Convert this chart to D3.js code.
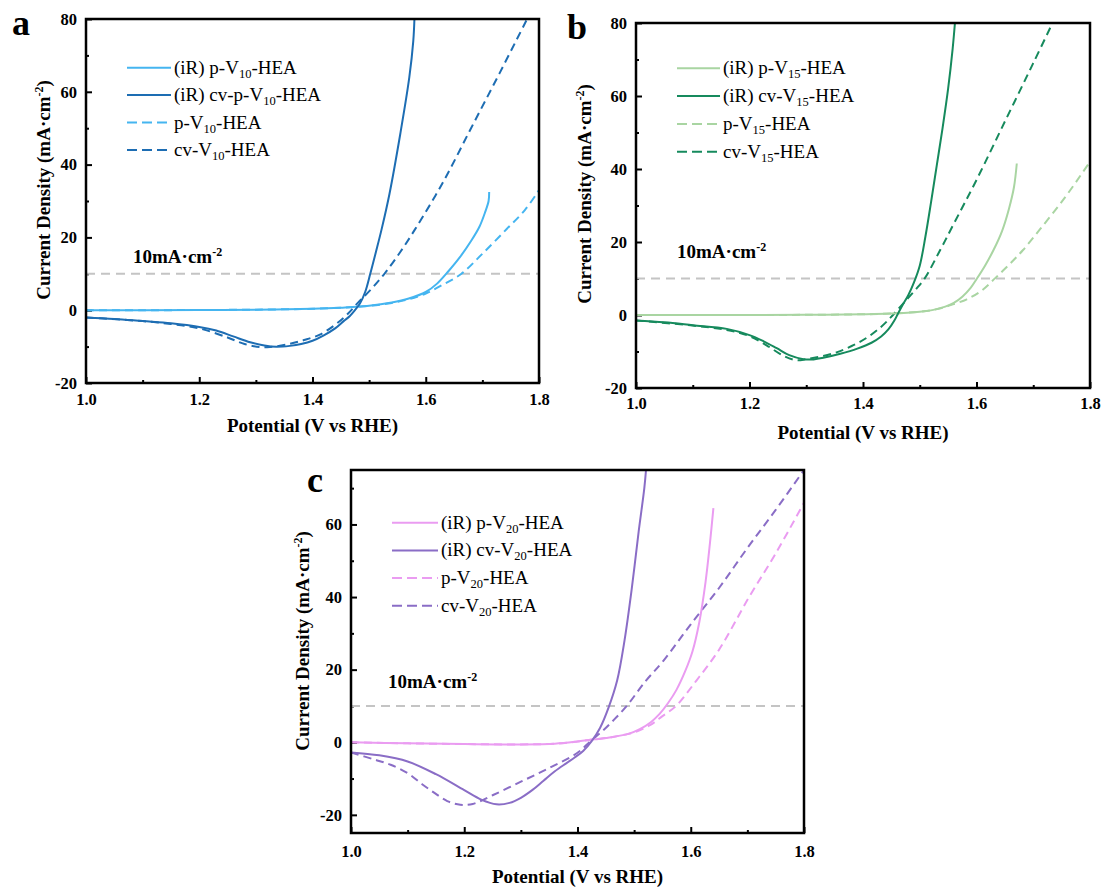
<!DOCTYPE html>
<html>
<head>
<meta charset="utf-8">
<script src="https://cdn.jsdelivr.net/npm/d3@7"></script>
<style>
  body { margin: 0; background: #fff; }
  svg { display: block; font-family: "Liberation Serif", "Times New Roman", serif; }
</style>
</head>
<body>
<div id="root"></div>
<script>
// ticks
var xTicks = [1.0, 1.2, 1.4, 1.6, 1.8];
var xMinor = [1.1, 1.3, 1.5, 1.7];
var yTicksAB = [-20, 0, 20, 40, 60, 80];
var yMinorAB = [-10, 10, 30, 50, 70];
var yTicksC = [-20, 0, 20, 40, 60];
var yMinorC = [-10, 10, 30, 50, 70];
var refLevel = 10;

// panel a: [potential V, current mA/cm2]
var aIrP = [[1.0,0],[1.1,0],[1.2,0.05],[1.3,0.15],[1.4,0.4],[1.45,0.7],[1.5,1.2],[1.54,2.1],[1.57,3.2],[1.6,5],[1.62,7.3],[1.64,10.7],[1.66,14.5],[1.68,19],[1.695,23],[1.705,27],[1.711,30],[1.712,32.5]];
var aIrCv = [[1.0,-2.0],[1.05,-2.4],[1.1,-3.0],[1.15,-3.6],[1.2,-4.6],[1.23,-5.6],[1.26,-7.2],[1.29,-8.8],[1.315,-9.7],[1.336,-10.05],[1.36,-9.8],[1.38,-9.3],[1.4,-8.4],[1.42,-6.9],[1.44,-5.0],[1.455,-3.0],[1.466,-1.6],[1.475,0],[1.484,1.9],[1.493,5],[1.502,10],[1.512,16],[1.522,22.2],[1.536,32],[1.555,48.4],[1.571,64],[1.578,74],[1.58,80]];
var aP = [[1.0,0],[1.1,0],[1.2,0.05],[1.3,0.15],[1.4,0.4],[1.45,0.7],[1.5,1.2],[1.54,2.0],[1.57,3.0],[1.6,4.6],[1.63,7],[1.663,10],[1.7,15.5],[1.743,22.3],[1.775,27.5],[1.8,33]];
var aCv = [[1.0,-2.0],[1.1,-3.0],[1.15,-3.8],[1.2,-5.0],[1.25,-7.5],[1.28,-9.3],[1.307,-10.1],[1.325,-10.1],[1.355,-9.4],[1.385,-8.2],[1.413,-6.7],[1.44,-4.0],[1.461,-1.2],[1.48,2],[1.505,6],[1.528,10.2],[1.555,16],[1.581,22.2],[1.63,35],[1.68,50],[1.73,65],[1.779,80]];

// panel b
var bIrP = [[1.0,0],[1.1,0],[1.2,0],[1.3,0.05],[1.4,0.2],[1.45,0.4],[1.5,0.9],[1.524,1.4],[1.545,2.3],[1.56,3.3],[1.575,5],[1.59,7.5],[1.6,9.8],[1.615,13.5],[1.63,17.8],[1.645,23],[1.657,29],[1.666,35],[1.671,41.5]];
var bIrCv = [[1.0,-1.5],[1.05,-2.0],[1.1,-2.8],[1.16,-3.8],[1.2,-5.5],[1.225,-7.2],[1.248,-9.1],[1.27,-11],[1.295,-12.1],[1.31,-12.2],[1.33,-11.7],[1.36,-10.6],[1.39,-9.2],[1.415,-7.6],[1.432,-5.9],[1.445,-3.9],[1.455,-1.6],[1.462,0.5],[1.47,2.8],[1.48,5.5],[1.49,9],[1.5,13.5],[1.51,21.5],[1.52,31],[1.53,41],[1.54,51],[1.55,62],[1.558,73],[1.562,80]];
var bP = [[1.0,0],[1.1,0],[1.2,0],[1.3,0.05],[1.4,0.2],[1.45,0.4],[1.5,0.9],[1.524,1.4],[1.545,2.2],[1.56,3.0],[1.583,4.3],[1.61,6.8],[1.633,10.1],[1.66,14.2],[1.682,17.8],[1.712,23.5],[1.755,32],[1.8,42]];
var bCv = [[1.0,-1.5],[1.1,-2.9],[1.16,-4.1],[1.2,-5.8],[1.23,-8.3],[1.26,-11.2],[1.283,-12.4],[1.3,-12.1],[1.348,-10.5],[1.38,-8.5],[1.406,-6.3],[1.43,-3.5],[1.448,-0.8],[1.462,1.6],[1.477,4.2],[1.493,7],[1.509,10.1],[1.536,17.8],[1.56,25],[1.6,37],[1.65,53],[1.7,69],[1.734,80]];

// panel c
var cIrP = [[1.0,0],[1.1,-0.3],[1.2,-0.5],[1.3,-0.6],[1.36,-0.4],[1.4,0.2],[1.43,0.8],[1.46,1.4],[1.49,2.3],[1.51,3.6],[1.53,5.6],[1.545,7.8],[1.56,10.8],[1.575,14.5],[1.59,19.5],[1.603,25],[1.615,33],[1.626,44],[1.634,55],[1.64,64.5]];
var cIrCv = [[1.0,-2.8],[1.05,-3.6],[1.1,-5.3],[1.15,-8.8],[1.2,-13.2],[1.23,-15.8],[1.257,-17.1],[1.28,-16.7],[1.3,-15.3],[1.32,-13.2],[1.34,-10.6],[1.36,-8.0],[1.38,-5.8],[1.395,-4.2],[1.41,-2.4],[1.425,0.3],[1.44,4],[1.455,9.6],[1.47,17],[1.483,28],[1.496,42.5],[1.508,58],[1.518,70],[1.521,75]];
var cP = [[1.0,0],[1.1,-0.3],[1.2,-0.5],[1.3,-0.6],[1.36,-0.4],[1.4,0.2],[1.43,0.8],[1.46,1.4],[1.48,2.0],[1.5,2.7],[1.528,4.7],[1.55,7.2],[1.574,10],[1.61,17],[1.65,25.5],[1.703,40],[1.75,52],[1.8,66]];
var cCv = [[1.0,-2.8],[1.04,-4.7],[1.07,-6.2],[1.1,-8.5],[1.125,-11.5],[1.146,-13.8],[1.17,-16.2],[1.193,-17.2],[1.215,-17.0],[1.25,-14.6],[1.301,-10.8],[1.351,-7.0],[1.4,-2.9],[1.423,0.3],[1.445,3.2],[1.465,6.3],[1.487,10],[1.52,16.8],[1.552,22.5],[1.6,32.5],[1.65,42.5],[1.7,53.5],[1.75,64],[1.8,75]];

// legend labels: [before, subscript, after]
var legendA = [['(iR) p-V', '10', '-HEA'], ['(iR) cv-p-V', '10', '-HEA'], ['p-V', '10', '-HEA'], ['cv-V', '10', '-HEA']];
var legendB = [['(iR) p-V', '15', '-HEA'], ['(iR) cv-V', '15', '-HEA'], ['p-V', '15', '-HEA'], ['cv-V', '15', '-HEA']];
var legendC = [['(iR) p-V', '20', '-HEA'], ['(iR) cv-V', '20', '-HEA'], ['p-V', '20', '-HEA'], ['cv-V', '20', '-HEA']];

var colorsA = ['#45b5f0', '#1d6db3'];
var colorsB = ['#a9d5a2', '#168a5d'];
var colorsC = ['#ea9cf1', '#8a6dc6'];

var panels = [
  { id: 'a', left: 86, top: 19, width: 453, height: 364, yDomain: [-20, 80], yTicks: yTicksAB, yMinor: yMinorAB,
    letter: [12, 35], xTitleY: 432, yTitleX: 50, yTitleCY: 190, xLabGap: 22,
    leg: { x1: 127, x2: 171, tx: 174, y0: 67.7, dy: 27.4 }, ref: [133, 263],
    series: [aIrP, aIrCv, aP, aCv], labels: legendA, colors: colorsA },
  { id: 'b', left: 636, top: 23, width: 454, height: 365, yDomain: [-20, 80], yTicks: yTicksAB, yMinor: yMinorAB,
    letter: [567, 39], xTitleY: 439, yTitleX: 591, yTitleCY: 194, xLabGap: 21,
    leg: { x1: 677, x2: 720, tx: 723, y0: 68.3, dy: 27.8 }, ref: [677, 258],
    series: [bIrP, bIrCv, bP, bCv], labels: legendB, colors: colorsB },
  { id: 'c', left: 351, top: 470, width: 453, height: 363, yDomain: [-25, 75], yTicks: yTicksC, yMinor: yMinorC,
    letter: [307, 492], xTitleY: 883, yTitleX: 309, yTitleCY: 641, xLabGap: 24,
    leg: { x1: 392, x2: 438, tx: 441, y0: 522.7, dy: 27.7 }, ref: [388, 688],
    series: [cIrP, cIrCv, cP, cCv], labels: legendC, colors: colorsC }
];

var dash = '8,5';
var svg = d3.select('#root').append('svg')
  .attr('width', 1106)
  .attr('height', 888);

var drawPanel = function(p) {
  var x = d3.scaleLinear().domain([1.0, 1.8]).range([0, p.width]);
  var y = d3.scaleLinear().domain(p.yDomain).range([p.height, 0]);
  var g = svg.append('g')
    .attr('id', 'panel_' + p.id)
    .attr('transform', 'translate(' + p.left + ',' + p.top + ')');

  g.append('clipPath').attr('id', 'clip_' + p.id)
    .append('rect').attr('width', p.width).attr('height', p.height);

  // x axis, ticks pointing inward
  g.append('g').attr('transform', 'translate(0,' + p.height + ')')
    .call(d3.axisBottom(x).tickValues(xTicks).tickSize(-6).tickPadding(p.xLabGap - 12)
      .tickFormat(d3.format('.1f')));
  g.append('g').attr('transform', 'translate(0,' + p.height + ')')
    .call(d3.axisBottom(x).tickValues(xMinor).tickSize(-3).tickFormat(''));
  g.append('g')
    .call(d3.axisLeft(y).tickValues(p.yTicks).tickSize(-6).tickPadding(9)
      .tickFormat(function(d) { return String(d); }));
  g.append('g')
    .call(d3.axisLeft(y).tickValues(p.yMinor).tickSize(-3).tickFormat(''));
  g.selectAll('.domain').remove();
  g.selectAll('.tick line').attr('stroke', '#000').attr('stroke-width', 2);
  g.selectAll('.tick text')
    .attr('fill', '#000')
    .style('font-family', '"Liberation Serif", serif')
    .style('font-size', '16.5px')
    .style('font-weight', 'bold');

  // reference line at 10 mA/cm2
  g.append('line')
    .attr('x1', 0).attr('x2', p.width)
    .attr('y1', y(refLevel)).attr('y2', y(refLevel))
    .attr('stroke', '#c4c4c4')
    .attr('stroke-width', 2)
    .attr('stroke-dasharray', '9,6');

  // curves
  var line = d3.line()
    .x(function(d) { return x(d[0]); })
    .y(function(d) { return y(d[1]); })
    .curve(d3.curveCatmullRom.alpha(0.5));
  var order = [2, 3, 0, 1];
  order.forEach(function(i) {
    g.append('path')
      .datum(p.series[i])
      .attr('clip-path', 'url(#clip_' + p.id + ')')
      .attr('d', line)
      .attr('fill', 'none')
      .attr('stroke', p.colors[i % 2])
      .attr('stroke-width', 2)
      .attr('stroke-dasharray', i > 1 ? dash : null);
  });

  // frame
  g.append('rect')
    .attr('width', p.width).attr('height', p.height)
    .attr('fill', 'none').attr('stroke', '#000').attr('stroke-width', 2.5);

  // legend
  var leg = svg.append('g').attr('class', 'legend');
  p.labels.forEach(function(lab, i) {
    var ly = p.leg.y0 + i * p.leg.dy;
    leg.append('line')
      .attr('x1', p.leg.x1).attr('x2', p.leg.x2)
      .attr('y1', ly).attr('y2', ly)
      .attr('stroke', p.colors[i % 2])
      .attr('stroke-width', 2)
      .attr('stroke-dasharray', i > 1 ? '10,5' : null);
    var t = leg.append('text')
      .attr('x', p.leg.tx).attr('y', ly + 6)
      .style('font-size', '19px');
    t.append('tspan').text(lab[0]);
    t.append('tspan').attr('dy', 4).style('font-size', '12.5px').text(lab[1]);
    t.append('tspan').attr('dy', -4).text(lab[2]);
  });

  // 10 mA label
  var rt = svg.append('text')
    .attr('x', p.ref[0]).attr('y', p.ref[1])
    .style('font-size', '19px').style('font-weight', 'bold');
  rt.append('tspan').text('10mA\u00b7cm');
  rt.append('tspan').attr('dy', -7).style('font-size', '12px').text('-2');

  // axis titles
  svg.append('text')
    .attr('x', p.left + p.width / 2).attr('y', p.xTitleY)
    .attr('text-anchor', 'middle')
    .style('font-size', '19px').style('font-weight', 'bold')
    .text('Potential (V vs RHE)');
  var yt = svg.append('text')
    .attr('transform', 'translate(' + p.yTitleX + ',' + p.yTitleCY + ') rotate(-90)')
    .attr('text-anchor', 'middle')
    .style('font-size', '19px').style('font-weight', 'bold');
  yt.append('tspan').text('Current Density (mA\u00b7cm');
  yt.append('tspan').attr('dy', -7).style('font-size', '12px').text('-2');
  yt.append('tspan').attr('dy', 7).text(')');

  // panel letter
  svg.append('text')
    .attr('x', p.letter[0]).attr('y', p.letter[1])
    .style('font-size', '36px').style('font-weight', 'bold')
    .text(p.id);
};
panels.forEach(drawPanel);
</script>
</body>
</html>
